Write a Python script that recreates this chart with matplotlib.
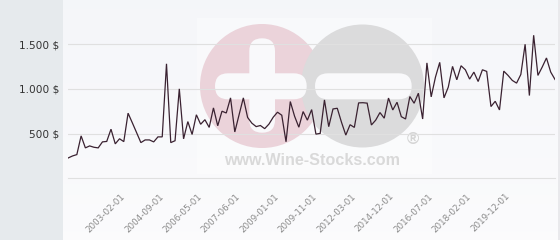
import matplotlib
matplotlib.use("Agg")
import matplotlib.pyplot as plt
import numpy as np
from matplotlib.patches import Rectangle, Circle, FancyBboxPatch

# ---- data ----
prices = [228, 250, 265, 474, 340, 362, 347, 340, 407, 412,
          549, 385, 442, 410, 728, 620, 510, 399, 429, 429,
          407, 463, 463, 1280, 399, 420, 1000, 441, 634, 490,
          710, 604, 655, 569, 787, 587, 750, 730, 899, 518,
          710, 899, 680, 616, 578, 590, 555, 606, 683, 739,
          705, 408, 858, 694, 571, 746, 650, 768, 494, 502,
          876, 577, 775, 783, 625, 483, 599, 569, 843, 845,
          840, 596, 650, 735, 672, 897, 764, 850, 689, 663,
          914, 839, 951, 663, 1290, 910, 1131, 1296, 899, 1019,
          1251, 1101, 1258, 1213, 1109, 1187, 1082, 1213, 1195, 802,
          861, 764, 1198, 1150, 1094, 1064, 1161, 1498, 925, 1599,
          1150, 1243, 1345, 1187, 1105]
tick_labels = ["2003-02-01", "2004-09-01", "2006-05-01", "2007-06-01",
               "2009-01-01", "2009-11-01", "2012-03-01", "2014-12-01",
               "2016-07-01", "2018-02-01", "2019-12-01"]
tick_index = [13, 22, 31, 40, 49, 58, 67, 76, 85, 94, 103]
y_ticks = [500, 1000, 1500]
y_tick_labels = ["500 $", "1.000 $", "1.500 $"]

W, H = 560, 240
fig = plt.figure(figsize=(W / 100, H / 100), dpi=100)
fig.patch.set_facecolor("#f8f8fb")

# ---- background layer in pixel coordinates ----
bg = fig.add_axes([0, 0, 1, 1], zorder=0)
bg.set_xlim(0, W)
bg.set_ylim(H, 0)
bg.axis("off")
grad = np.linspace(0, 1, 100).reshape(-1, 1)
c_top = np.array([0.960, 0.965, 0.978])
c_bot = np.array([0.985, 0.985, 0.990])
img = c_top + (c_bot - c_top) * grad[..., None]
img = np.repeat(img, 2, axis=1)
bg.imshow(img, extent=[62.7, W, H, 0], aspect="auto", zorder=0)
bg.add_patch(Rectangle((0, 0), 62.7, H, color="#e6eaed", zorder=1, lw=0))
bg.add_patch(Rectangle((557.5, 0), 2.5, H, color="#e9e9ec", zorder=1, lw=0))
# watermark
bg.add_patch(Rectangle((196.7, 18), 235, 156, color="#ffffff", alpha=0.35,
                       zorder=1, lw=0))
bg.add_patch(Circle((262, 86), 62, color="#ebd3da", zorder=2, lw=0))
bg.add_patch(Circle((362.5, 86), 61.5, color="#dbdbdc", zorder=3, lw=0))
bg.add_patch(FancyBboxPatch((249.3, 38.3), 25.7, 94.4,
                            boxstyle="round,pad=0,rounding_size=12.8",
                            color="#f9f9fb", zorder=4, lw=0))
bg.add_patch(FancyBboxPatch((215, 73.3), 91.7, 26,
                            boxstyle="round,pad=0,rounding_size=13",
                            color="#f9f9fb", zorder=4, lw=0))
bg.add_patch(FancyBboxPatch((315, 73.3), 96.7, 26,
                            boxstyle="round,pad=0,rounding_size=13",
                            color="#f9f9fb", zorder=4, lw=0))
bg.text(312.3, 165, "www.Wine-Stocks.com", family="Liberation Sans",
        fontweight="bold", fontsize=11.6, color="#d9d9d9",
        ha="center", va="baseline", zorder=5)
bg.text(413.3, 139.5, "\u00ae", family="Liberation Sans", fontweight="bold",
        fontsize=12, color="#d4d4d4", ha="center", va="center", zorder=5)

# ---- main chart ----
ax = fig.add_axes([68.3 / W, 1 - 178.3 / H, (555 - 68.3) / W, 178.3 / H], zorder=2)
ax.set_facecolor("none")
x = np.arange(len(prices))
ax.plot(x, prices, color="#3a2231", lw=0.9, solid_joinstyle="miter", zorder=3)
ax.set_xlim(0, len(prices) - 1)
ax.set_ylim(0, 1993)

ax.set_yticks(y_ticks)
ax.set_yticklabels(y_tick_labels)
ax.grid(axis="y", color="#e0e0e0", lw=0.8)
ax.set_axisbelow(True)
for s in ["top", "right", "left"]:
    ax.spines[s].set_visible(False)
ax.spines["bottom"].set_color("#e0e0e0")
ax.spines["bottom"].set_linewidth(0.8)
ax.tick_params(axis="y", length=0, pad=6.5, labelsize=7.6, labelcolor="#333333")

ax.set_xticks(tick_index)
ax.set_xticklabels(tick_labels, rotation=45, ha="right", va="center",
                   rotation_mode="anchor")
ax.tick_params(axis="x", length=0, pad=12, labelsize=6.3, labelcolor="#8a8a8a")

fig.savefig("out.png", dpi=100, facecolor=fig.get_facecolor())
